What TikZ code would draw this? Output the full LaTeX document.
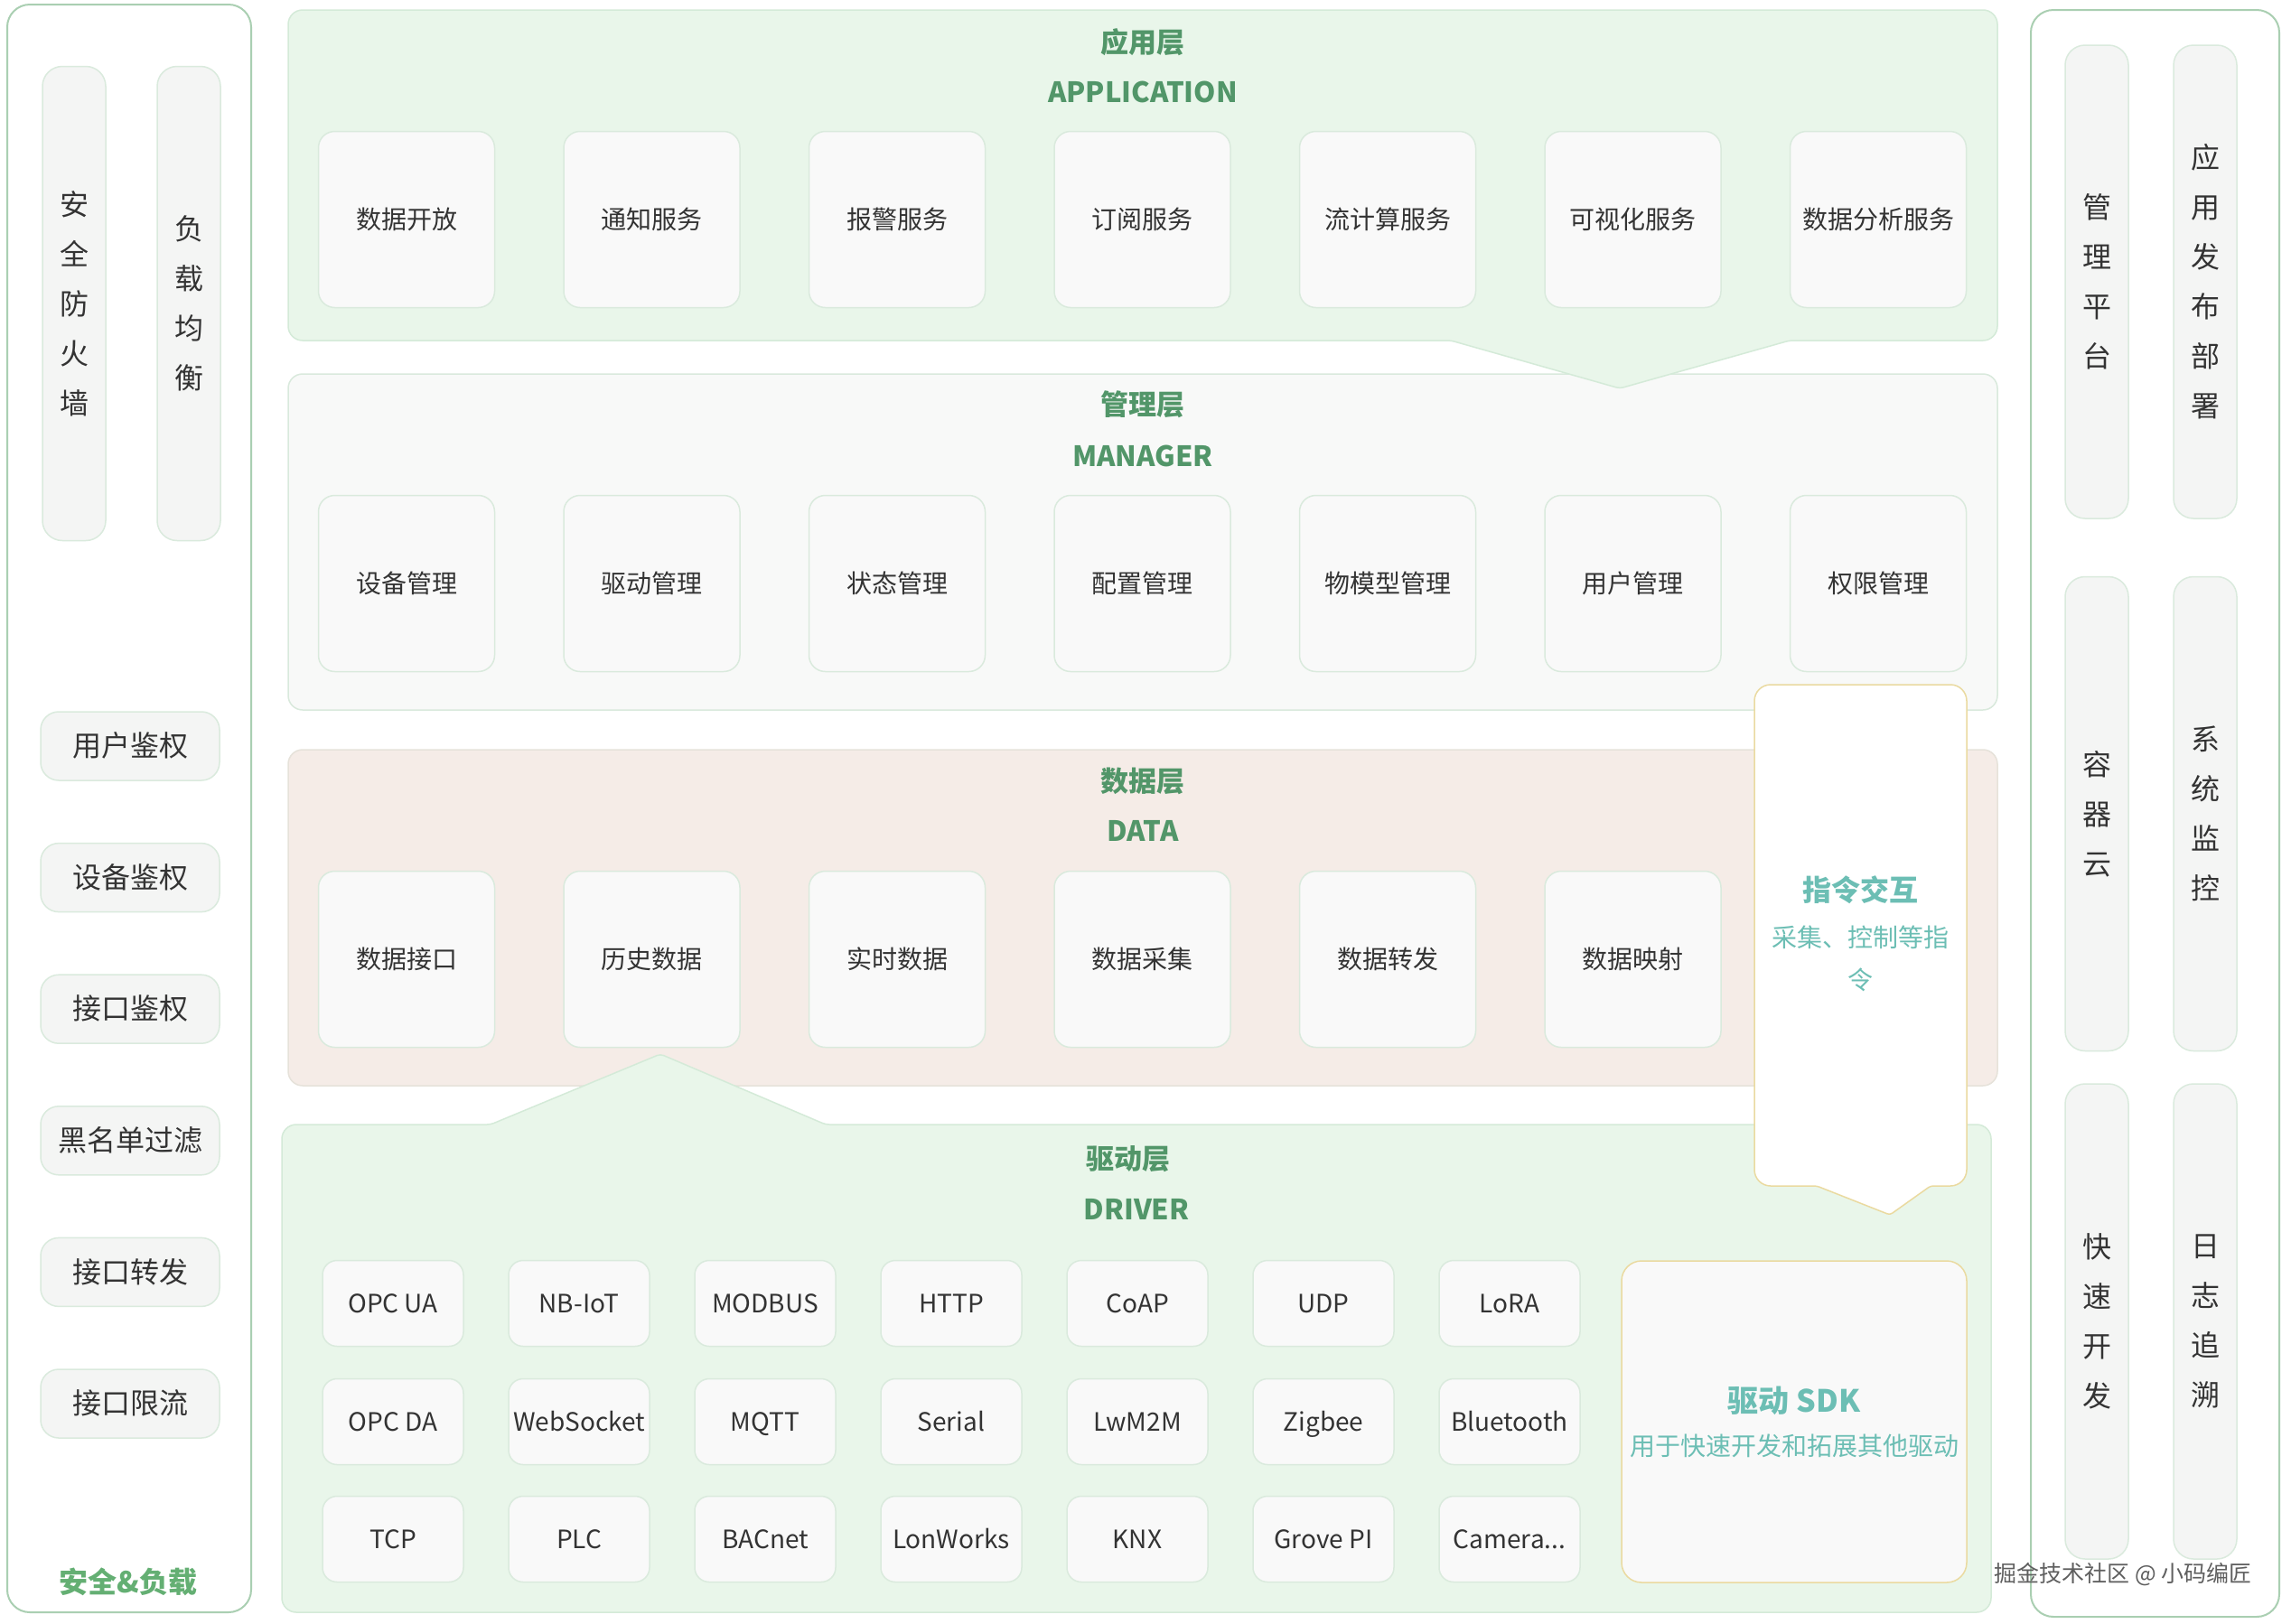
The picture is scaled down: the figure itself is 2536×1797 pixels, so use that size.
\documentclass[tikz,border=0pt]{standalone}
\usepackage{fontspec}
\setmainfont{Noto Sans CJK SC}
\definecolor{hdr}{RGB}{82,150,105}
\definecolor{hdrlight}{RGB}{100,175,115}
\definecolor{sdkteal}{RGB}{108,190,180}
\definecolor{txt}{RGB}{51,51,51}
\definecolor{appfill}{RGB}{233,246,234}
\definecolor{appline}{RGB}{212,234,216}
\definecolor{mgrfill}{RGB}{248,249,248}
\definecolor{mgrline}{RGB}{217,233,220}
\definecolor{datafill}{RGB}{245,236,231}
\definecolor{dataline}{RGB}{230,226,218}
\definecolor{boxfill}{RGB}{249,249,249}
\definecolor{boxline}{RGB}{218,234,221}
\definecolor{panelline}{RGB}{170,207,178}
\definecolor{barfill}{RGB}{244,245,244}
\definecolor{yel}{RGB}{234,218,160}
\definecolor{wmark}{RGB}{95,95,95}
\begin{document}
\begin{tikzpicture}[x=1pt,y=-1pt,
  fixline/.style={text height=0.76*#1, text depth=1pt},
  card/.style={draw=boxline, fill=boxfill, line width=1.5pt, rounded corners=18pt,
    minimum width=195pt, minimum height=195pt, inner sep=0pt,
    font=\fontsize{28}{34}\selectfont, text=txt, fixline=28pt},
  proto/.style={card, minimum width=156pt, minimum height=95pt, rounded corners=16pt},
  bar/.style={draw=boxline, fill=barfill, line width=1.5pt, rounded corners=22pt,
    minimum width=70pt, minimum height=525pt, inner sep=0pt,
    font=\fontsize{32}{55}\selectfont, text=txt, align=center},
  auth/.style={draw=boxline, fill=barfill, line width=1.5pt, rounded corners=20pt,
    minimum width=198pt, minimum height=76pt, inner sep=0pt,
    font=\fontsize{32}{38}\selectfont, text=txt, fixline=32pt},
  hdrtext/.style={font=\fontsize{31}{36}\selectfont\bfseries, text=hdr, inner sep=0pt, fixline=31pt},
  panel/.style={draw=panelline, fill=white, line width=2pt, rounded corners=25pt},
  layerline/.style={line width=1.5pt, rounded corners=16pt}
]
\useasboundingbox (0,0) rectangle (2536,1797);
\fill[white] (0,0) rectangle (2536,1797);

% ---------- left panel ----------
\draw[panel] (8,5) rectangle (278,1785);
\node[bar] (fw) at (82,336) {安\\全\\防\\火\\墙};
\node[bar] (lb) at (209,336) {负\\载\\均\\衡};
\foreach \t [count=\i] in {用户鉴权,设备鉴权,接口鉴权,黑名单过滤,接口转发,接口限流}
  \node[auth] (au\i) at (144,{826+145.6*(\i-1)}) {\t};
\node[font=\fontsize{32}{38}\selectfont\bfseries, text=hdrlight, inner sep=0pt, fixline=32pt] (secT) at (142,1752) {安全\&负载};

% ---------- right panel ----------
\draw[panel] (2248,11) rectangle (2523,1790);
\node[bar, minimum height=524pt] (mp) at (2321,312) {管\\理\\平\\台};
\node[bar, minimum height=524pt] (ad) at (2441,312) {应\\用\\发\\布\\部\\署};
\node[bar] (cc) at (2321,901) {容\\器\\云};
\node[bar] (sm) at (2441,901) {系\\统\\监\\控};
\node[bar, minimum height=526pt] (qd) at (2321,1463) {快\\速\\开\\发};
\node[bar, minimum height=526pt] (lg) at (2441,1463) {日\\志\\追\\溯};

% ---------- manager layer ----------
\draw[layerline, fill=mgrfill, draw=mgrline] (319,414) rectangle (2211,786);
\node[hdrtext] (mgrT) at (1265,448) {管理层};
\node[hdrtext] (mgrE) at (1265,505) {MANAGER};
\foreach \t [count=\i] in {设备管理,驱动管理,状态管理,配置管理,物模型管理,用户管理,权限管理}
  \node[card] (mg\i) at ({450+271.5*(\i-1)},646) {\t};

% ---------- application layer ----------
\draw[layerline, fill=appfill, draw=appline]
  (319,11) -- (2211,11) -- (2211,377) [rounded corners=4pt] -- (1981,377) -- (1793,430) -- (1606,377)
  [rounded corners=16pt] -- (319,377) -- cycle;
\node[hdrtext] (appT) at (1265,47) {应用层};
\node[hdrtext] (appE) at (1265,102) {APPLICATION};
\foreach \t [count=\i] in {数据开放,通知服务,报警服务,订阅服务,流计算服务,可视化服务,数据分析服务}
  \node[card] (ap\i) at ({450+271.5*(\i-1)},243) {\t};

% ---------- data layer ----------
\draw[layerline, fill=datafill, draw=dataline] (319,830) rectangle (2211,1202);
\node[hdrtext] (datT) at (1265,865) {数据层};
\node[hdrtext] (datE) at (1265,920) {DATA};
\foreach \t [count=\i] in {数据接口,历史数据,实时数据,数据采集,数据转发,数据映射}
  \node[card] (dt\i) at ({450+271.5*(\i-1)},1062) {\t};

% ---------- driver layer ----------
\draw[layerline, fill=appfill, draw=appline]
  (312,1785) -- (312,1245) [rounded corners=4pt] -- (543,1245) -- (731,1167) -- (914,1245)
  [rounded corners=16pt] -- (2204,1245) -- (2204,1785) -- cycle;
\node[hdrtext] (drvT) at (1249,1283) {驱动层};
\node[hdrtext] (drvE) at (1258,1339) {DRIVER};
\foreach \t [count=\i] in {OPC UA,NB-IoT,MODBUS,HTTP,CoAP,UDP,LoRA}
  \node[proto] (pa\i) at ({435+206*(\i-1)},1443) {\t};
\foreach \t [count=\i] in {OPC DA,WebSocket,MQTT,Serial,LwM2M,Zigbee,Bluetooth}
  \node[proto] (pb\i) at ({435+206*(\i-1)},1574) {\t};
\foreach \t [count=\i] in {TCP,PLC,BACnet,LonWorks,KNX,Grove PI}
  \node[proto] (pc\i) at ({435+206*(\i-1)},1704) {\t};
\node[proto] (pc7) at (1671,1704) {Camera...};

% SDK box
\node[draw=yel, fill=boxfill, line width=1.5pt, rounded corners=22pt,
  minimum width=382pt, minimum height=356pt] (sdk) at (1986,1574) {};
\node[font=\fontsize{34}{40}\selectfont\bfseries, text=sdkteal, inner sep=0pt, fixline=34pt] (sdkT) at (1986,1551) {驱动 SDK};
\node[font=\fontsize{28}{34}\selectfont, text=sdkteal, inner sep=0pt, fixline=28pt] (sdkS) at (1986,1601) {用于快速开发和拓展其他驱动};

% ---------- command interaction ----------
\draw[fill=white, draw=yel, line width=1.5pt, rounded corners=18pt]
  (1942,758) -- (2177,758) -- (2177,1313) [rounded corners=3pt] -- (2137,1313) -- (2092,1345) -- (2011,1313)
  [rounded corners=18pt] -- (1942,1313) -- cycle;
\node[font=\fontsize{32}{38}\selectfont\bfseries, text=sdkteal, inner sep=0pt, fixline=32pt] (cmdT) at (2059,986) {指令交互};
\node[font=\fontsize{28}{47}\selectfont, text=sdkteal, align=center, inner sep=0pt] (cmdS) at (2059,1061) {采集、控制等指\\令};

% watermark
\node[font=\fontsize{25}{30}\selectfont, text=wmark, inner sep=0pt, fixline=25pt] (wm) at (2350,1742) {掘金技术社区 @ 小码编匠};
\end{tikzpicture}
\end{document}
